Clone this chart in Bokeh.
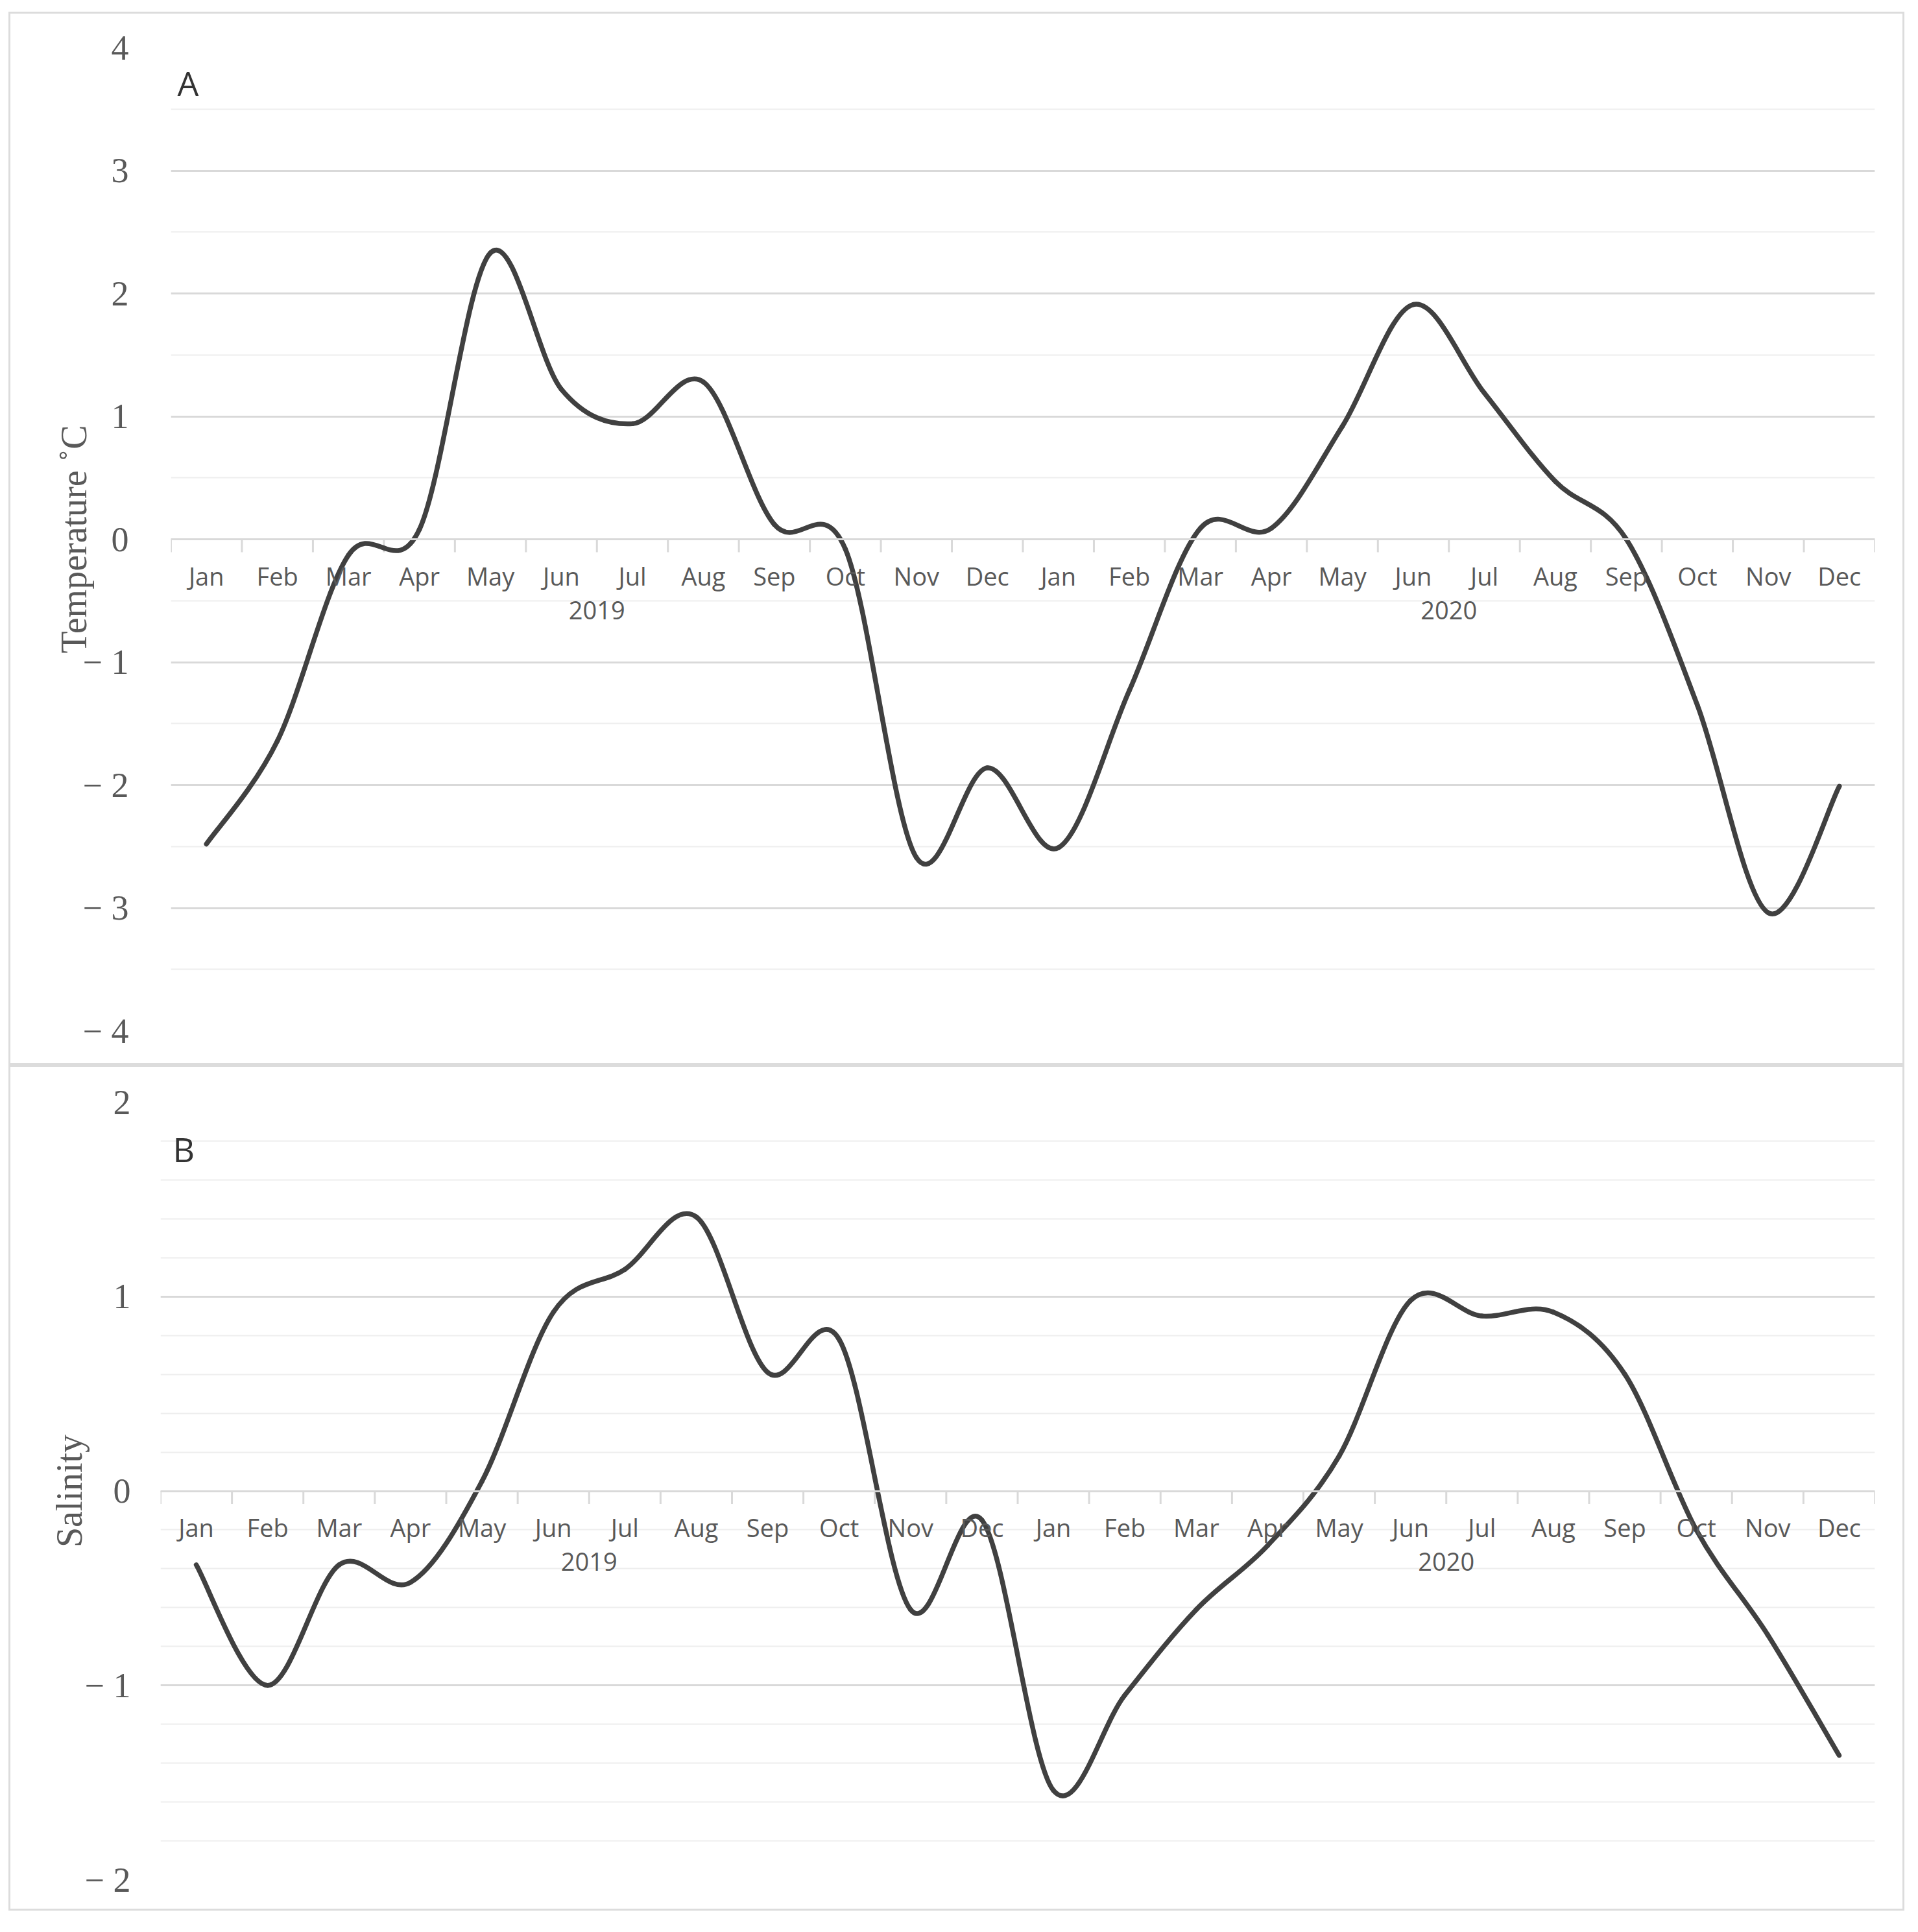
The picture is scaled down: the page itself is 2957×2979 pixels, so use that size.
import math
from bokeh.plotting import figure
from bokeh.models import FactorRange, Range1d, SingleIntervalTicker, ColumnDataSource, Spacer
from bokeh.layouts import column, row
from bokeh.embed import file_html
from bokeh.resources import INLINE
from bokeh.core.properties import value

# ---------------- data ----------------
years = ["2019", "2020"]
months = ["Jan", "Feb", "Mar", "Apr", "May", "Jun",
          "Jul", "Aug", "Sep", "Oct", "Nov", "Dec"]

temperature = [-2.48, -1.64, -0.13, 0.08, 2.33, 1.22, 0.94, 1.28, 0.12, -0.08, -2.59, -1.86,
               -2.51, -1.23, 0.09, 0.09, 0.92, 1.91, 1.19, 0.47, 0.00, -1.35, -3.04, -2.01]
salinity = [-0.38, -1.00, -0.38, -0.47, 0.05, 0.92, 1.14, 1.41, 0.61, 0.78, -0.61, -0.15,
            -1.54, -1.05, -0.61, -0.28, 0.18, 0.98, 0.90, 0.92, 0.60, -0.20, -0.74, -1.36]

temp_ticks = [-4, -3, -2, -1, 0, 1, 2, 3, 4]
sal_ticks = [-2, -1, 0, 1, 2]

factors = [(y, m) for y in years for m in months]

GRID = "#d9d9d9"
MINOR = "#eeeeee"
TXT = "#595959"
LINE = "#404040"


def tick_text(v):
    return "\u2212 %d" % (-v) if v < 0 else "%d" % v


def bezier_source(vals):
    n = len(vals)
    d = {k: [] for k in ("x0", "y0", "x1", "y1", "cx0", "cy0", "cx1", "cy1")}
    for i in range(n - 1):
        ip = max(i - 1, 0)
        inx = min(i + 2, n - 1)
        dx0 = (i + 1 - ip) / 6.0
        dy0 = (vals[i + 1] - vals[ip]) / 6.0
        dx1 = (inx - i) / 6.0
        dy1 = (vals[inx] - vals[i]) / 6.0
        d["x0"].append([*factors[i], 0.0])
        d["y0"].append(vals[i])
        d["x1"].append([*factors[i + 1], 0.0])
        d["y1"].append(vals[i + 1])
        d["cx0"].append([*factors[i], dx0])
        d["cy0"].append(vals[i] + dy0)
        d["cx1"].append([*factors[i + 1], -dx1])
        d["cy1"].append(vals[i + 1] - dy1)
    return ColumnDataSource(d)


def panel(vals, ticks, minor, letter, ytitle, height, borders, label_standoff,
          title_standoff, letter_off):
    p = figure(
        width=2923, height=height,
        x_range=FactorRange(*factors, range_padding=0, group_padding=0, factor_padding=0),
        y_range=Range1d(ticks[0], ticks[-1]),
        output_backend="svg", toolbar_location=None,
        min_border_top=borders[0], min_border_right=borders[1],
        min_border_bottom=borders[2], min_border_left=borders[3],
        background_fill_color="white", border_fill_color="white",
    )
    p.outline_line_color = None
    p.styles = {"border": "3px solid #dcdcdc"}

    # y axis
    yax = p.yaxis[0]
    yax.ticker = SingleIntervalTicker(interval=1, num_minor_ticks=minor)
    yax.major_label_overrides = {t: tick_text(t) for t in ticks}
    yax.axis_line_color = None
    yax.major_tick_line_color = None
    yax.minor_tick_line_color = None
    yax.major_tick_out = 0
    yax.major_label_standoff = label_standoff
    yax.major_label_text_font = "Liberation Serif"
    yax.major_label_text_font_size = "54px"
    yax.major_label_text_color = TXT
    yax.axis_label = ytitle
    yax.axis_label_text_font = "Liberation Serif"
    yax.axis_label_text_font_style = "normal"
    yax.axis_label_text_font_size = "56px"
    yax.axis_label_text_color = TXT
    yax.axis_label_standoff = title_standoff

    # x axis at y = 0
    xax = p.xaxis[0]
    xax.fixed_location = 0
    xax.axis_line_color = GRID
    xax.axis_line_width = 3
    xax.major_tick_line_color = None
    xax.major_tick_out = 20
    xax.major_tick_in = 0
    xax.major_label_standoff = 10
    xax.major_label_text_font = "Open Sans"
    xax.major_label_text_font_size = "38px"
    xax.major_label_text_color = TXT
    xax.group_text_font = "Open Sans"
    xax.group_text_font_size = "38px"
    xax.group_text_font_style = "normal"
    xax.group_text_color = TXT
    xax.separator_line_color = None

    # grids
    p.xgrid.grid_line_color = None
    p.ygrid.grid_line_color = GRID
    p.ygrid.grid_line_width = 3
    p.ygrid.minor_grid_line_color = MINOR
    p.ygrid.minor_grid_line_width = 2

    # category-boundary tick marks on the zero axis
    bounds = [[*f, -0.5] for f in factors] + [[*factors[-1], 0.5]]
    p.ray(x=bounds, y=[0] * len(bounds), length=20, length_units="screen",
          angle=-math.pi / 2, line_color=GRID, line_width=3)

    # smoothed line
    p.bezier("x0", "y0", "x1", "y1", "cx0", "cy0", "cx1", "cy1",
             source=bezier_source(vals), line_color=LINE, line_width=7.5,
             line_cap="round", line_join="round")

    # panel letter
    p.text(x=[[*factors[0], -0.5]], y=[ticks[-1]], text=[letter],
           x_offset=letter_off[0], y_offset=letter_off[1],
           text_baseline="middle", text_align="left",
           text_font=value("Open Sans"), text_font_size="52px", text_color="#333333")
    return p


pA = panel(temperature, temp_ticks, 2, "A", "Temperature \u02daC", 1624,
           (52, 49, 56, 247), 61, -20, (10, 54))
pB = panel(salinity, sal_ticks, 5, "B", "Salinity", 1304,
           (54, 49, 51, 231), 42, -10, (19, 72))

layout = column(
    Spacer(width=13, height=18),
    row(Spacer(width=13, height=10), pA),
    row(Spacer(width=13, height=10), pB),
    spacing=0,
)
open("out.html", "w").write(file_html(layout, INLINE))
